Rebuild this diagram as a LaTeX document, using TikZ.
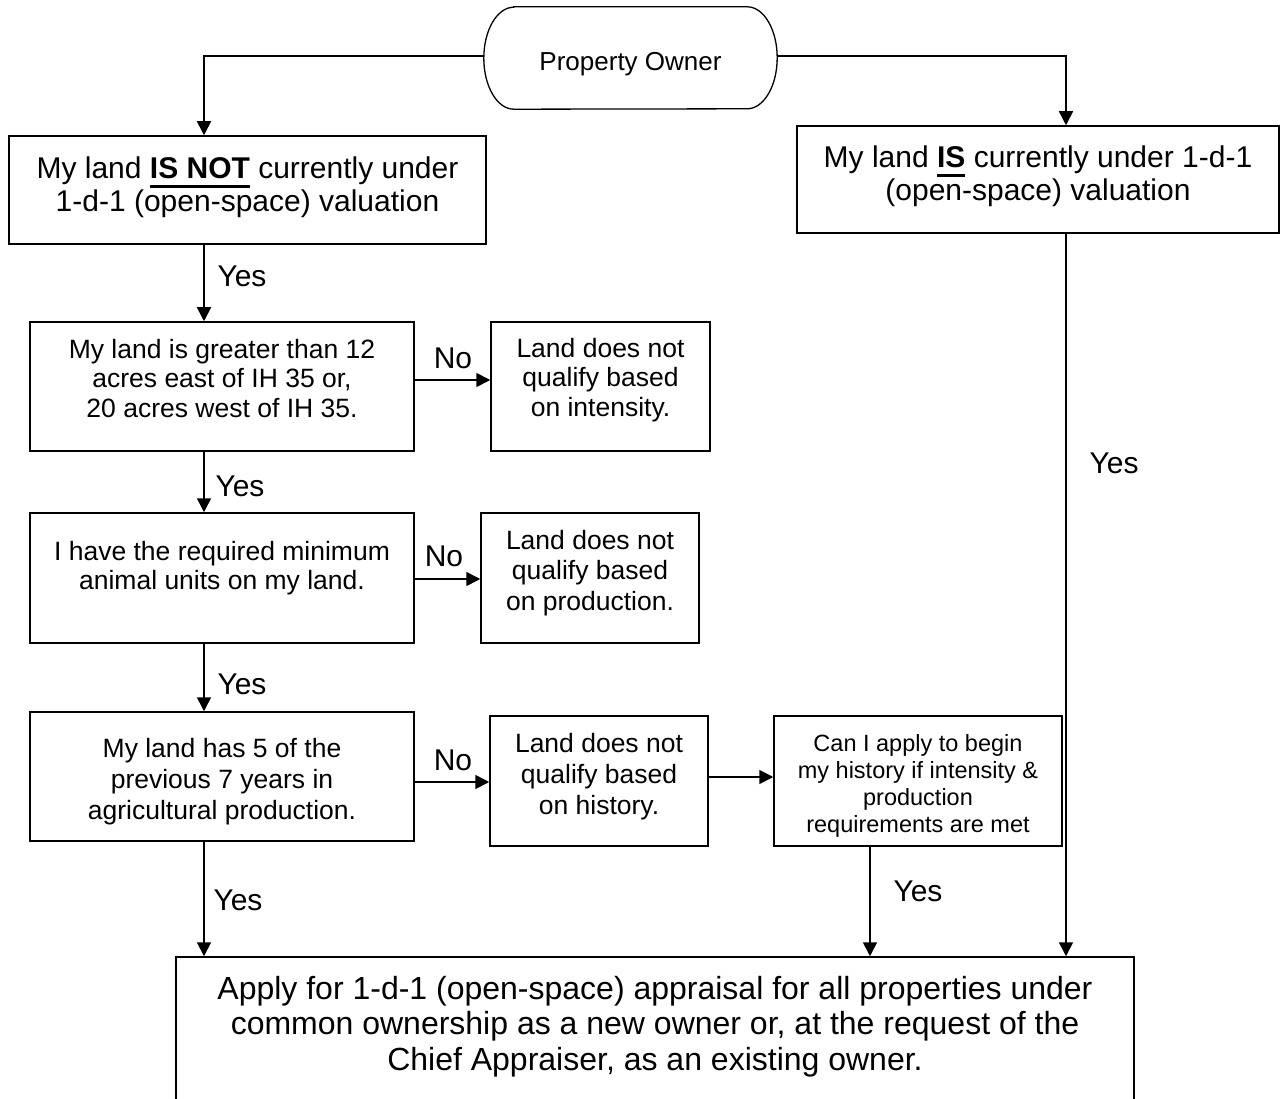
\documentclass[tikz,border=0pt]{standalone}
\usepackage{fontspec}
\setmainfont{Liberation Sans}
\usetikzlibrary{arrows.meta,calc}
% W H pad size skip text
\newcommand\bx[6]{\parbox[c][#2pt][t]{#1pt}{\centering\fontsize{#4pt}{#5pt}\selectfont\vspace*{#3pt}#6\par}}
\newcommand\thickul[1]{\leavevmode\setbox0=\hbox{#1}\rlap{\raisebox{-8.8pt}[0pt][0pt]{\rule{\wd0}{2.4pt}}}\box0\relax}
\tikzset{
  boxx/.style={draw, line width=1.5pt, inner sep=0pt},
  arr/.style={line width=1.6pt, -{Triangle[length=14pt,width=14pt]}},
  lbl/.style={inner sep=0pt, font=\fontsize{30pt}{34pt}\selectfont},
}
\begin{document}
\begin{tikzpicture}[x=1pt,y=-1pt]
\useasboundingbox (0,0) rectangle (1280,1099);
\clip (0,0) rectangle (1280,1099);
\fill[white] (0,0) rectangle (1280,1099);

\node[rectangle, minimum width=293pt, minimum height=102pt, inner sep=0pt, text depth=0pt,
      font=\fontsize{26pt}{30pt}\selectfont] (owner) at (630.5,61) {Property Owner};
\draw[line width=1.3pt] ([xshift=30pt,yshift=3pt]owner.north west) -- ([xshift=-30pt,yshift=3pt]owner.north east)
  arc[start angle=90, end angle=-90, x radius=30pt, y radius=51pt]
  -- ([xshift=30pt,yshift=3pt]owner.south west)
  arc[start angle=270, end angle=90, x radius=30pt, y radius=51pt] -- cycle;
\coordinate (ow) at ([yshift=5pt]owner.west);
\coordinate (oe) at ([yshift=5pt]owner.east);

\node[boxx] (b1) at (247.5,190) {\bx{477}{108}{21}{30}{33}{My land \thickul{\textbf{IS NOT}} currently under\\1-d-1 (open-space) valuation}};
\node[boxx] (r1) at (1038,179.5) {\bx{482}{107}{20}{30}{33}{My land \thickul{\textbf{IS}} currently under 1-d-1\\(open-space) valuation}};

\node[boxx] (b2) at (222,386.5) {\bx{384}{129}{17}{26.5}{29.5}{My land is greater than 12\\acres east of IH 35 or,\\20 acres west of IH 35.}};
\node[boxx] (b2n) at (600.5,386.5) {\bx{219}{129}{16}{26.5}{29.5}{Land does not\\qualify based\\on intensity.}};

\node[boxx] (b3) at (222,578) {\bx{384}{130}{28}{26.5}{29.5}{I have the required minimum\\animal units on my land.}};
\node[boxx] (b3n) at (590,578) {\bx{218}{130}{17}{26.5}{30.5}{Land does not\\qualify based\\on production.}};

\node[boxx] (b4) at (222,776.5) {\bx{384}{129}{26}{26.5}{31}{My land has 5 of the\\previous 7 years in\\agricultural production.}};
\node[boxx] (b4n) at (599,781) {\bx{218}{130}{17}{26.5}{31}{Land does not\\qualify based\\on history.}};
\node[boxx] (b4c) at (918,781) {\bx{288}{130}{18}{23.5}{27}{Can I apply to begin\\my history if intensity \&\\production\\requirements are met}};

\node[boxx] (final) at (655,1047) {\bx{958}{180}{19}{32}{35.5}{Apply for 1-d-1 (open-space) appraisal for all properties under\\common ownership as a new owner or, at the request of the\\Chief Appraiser, as an existing owner.}};

\coordinate (spine) at (204,0);
\coordinate (rsp) at (1066,0);
\coordinate (msp) at (870,0);
\coordinate (h2) at (0,380);
\coordinate (h3) at (0,579);
\coordinate (h4) at (0,782);
\coordinate (h5) at (0,777);

\draw[arr] (ow) -| (b1.north -| spine);
\draw[arr] (oe) -| (r1.north -| rsp);
\draw[arr] (b1.south -| spine) -- (b2.north -| spine);
\draw[arr] (b2.south -| spine) -- (b3.north -| spine);
\draw[arr] (b3.south -| spine) -- (b4.north -| spine);
\draw[arr] (b4.south -| spine) -- (final.north -| spine);
\draw[arr] (b2.east |- h2) -- (b2n.west |- h2);
\draw[arr] (b3.east |- h3) -- (b3n.west |- h3);
\draw[arr] (b4.east |- h4) -- (b4n.west |- h4);
\draw[arr] (b4n.east |- h5) -- (b4c.west |- h5);
\draw[arr] (b4c.south -| msp) -- (final.north -| msp);
\draw[arr] (r1.south -| rsp) -- (final.north -| rsp);

\node[lbl] (yes1) at (242,276) {Yes};
\node[lbl] (no1) at (453,358) {No};
\node[lbl] (yes2) at (240,486) {Yes};
\node[lbl] (no2) at (444,556) {No};
\node[lbl] (yes3) at (242,684) {Yes};
\node[lbl] (no3) at (453,760) {No};
\node[lbl] (yes4) at (238,900) {Yes};
\node[lbl] (yes5) at (918,891) {Yes};
\node[lbl] (yes6) at (1114,463) {Yes};
\end{tikzpicture}
\end{document}
